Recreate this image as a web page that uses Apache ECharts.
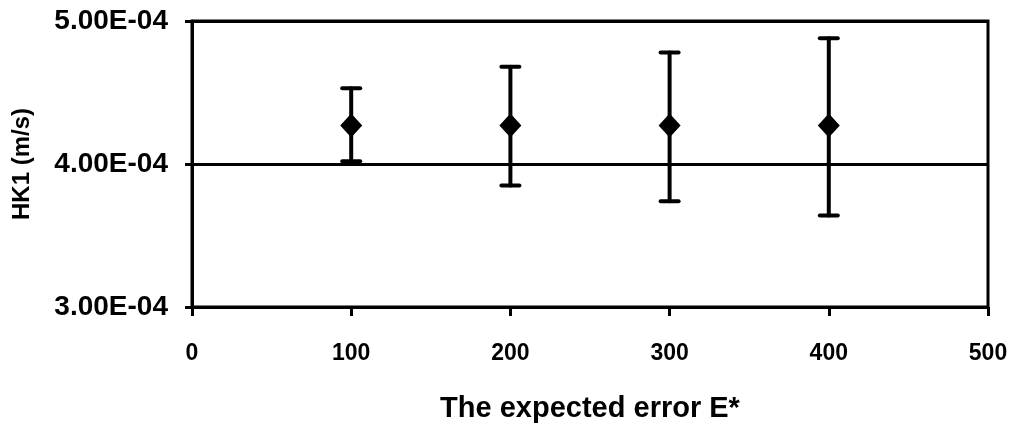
<!DOCTYPE html>
<html>
<head>
<meta charset="utf-8">
<script src="https://cdn.jsdelivr.net/npm/echarts@6/dist/echarts.min.js"></script>
<style>
  html, body { margin: 0; padding: 0; background: #fff; }
  #chart { width: 1024px; height: 435px; }
</style>
</head>
<body>
<div id="chart"></div>
<script>
// Data
const errorLevels = [100, 200, 300, 400];
const hk1Mean = [4.27e-4, 4.27e-4, 4.27e-4, 4.27e-4];
const hk1Upper = [4.53e-4, 4.68e-4, 4.78e-4, 4.88e-4];
const hk1Lower = [4.02e-4, 3.85e-4, 3.74e-4, 3.64e-4];
const yTickValues = [3e-4, 4e-4, 5e-4];
const yTickLabels = ['3.00E-04', '4.00E-04', '5.00E-04'];

const FONT = '"Liberation Sans", Arial, sans-serif';

function yLabel(v) {
    for (let i = 0; i < yTickValues.length; i++) {
        if (Math.abs(v - yTickValues[i]) < 1e-9) return yTickLabels[i];
    }
    return '';
}

const chart = echarts.init(document.getElementById('chart'));

const option = {
    animation: false,
    grid: {
        left: 192, right: 36, top: 21, bottom: 128,
        show: true, borderColor: '#000', borderWidth: 3, backgroundColor: 'transparent'
    },
    xAxis: {
        type: 'value',
        min: 0, max: 500, interval: 100,
        name: 'The expected error E*',
        nameLocation: 'middle',
        nameGap: 87,
        nameTextStyle: { fontFamily: FONT, fontWeight: 'bold', fontSize: 29, color: '#000' },
        axisLine: { lineStyle: { color: '#000', width: 3 } },
        axisTick: { inside: false, length: 9, lineStyle: { color: '#000', width: 3 } },
        axisLabel: { margin: 35, fontFamily: FONT, fontWeight: 'bold', fontSize: 23, color: '#000' },
        splitLine: { show: false }
    },
    yAxis: {
        type: 'value',
        min: 3e-4, max: 5e-4, interval: 1e-4,
        name: 'HK1 (m/s)',
        nameLocation: 'middle',
        nameGap: 158,
        nameTextStyle: { fontFamily: FONT, fontWeight: 'bold', fontSize: 24, color: '#000' },
        axisLine: { lineStyle: { color: '#000', width: 3 } },
        axisTick: { length: 7, lineStyle: { color: '#000', width: 3 } },
        axisLabel: { margin: 24, fontFamily: FONT, fontWeight: 'bold', fontSize: 28, color: '#000', formatter: yLabel },
        splitLine: { show: true, lineStyle: { color: '#000', width: 3 } }
    },
    series: [
        {
            type: 'custom',
            data: errorLevels.map((x, i) => [x, hk1Lower[i], hk1Upper[i]]),
            encode: { x: 0, y: [1, 2] },
            z: 3,
            renderItem: function (params, api) {
                const lo = api.coord([api.value(0), api.value(1)]);
                const hi = api.coord([api.value(0), api.value(2)]);
                const half = 9;
                const style = { stroke: '#000', lineWidth: 4, fill: null, lineCap: 'round' };
                return {
                    type: 'group',
                    children: [
                        { type: 'line', shape: { x1: lo[0], y1: lo[1], x2: hi[0], y2: hi[1] }, style: style },
                        { type: 'line', shape: { x1: hi[0] - half, y1: hi[1], x2: hi[0] + half, y2: hi[1] }, style: style },
                        { type: 'line', shape: { x1: lo[0] - half, y1: lo[1], x2: lo[0] + half, y2: lo[1] }, style: style }
                    ]
                };
            }
        },
        {
            type: 'scatter',
            data: errorLevels.map((x, i) => [x, hk1Mean[i]]),
            symbol: 'diamond',
            symbolSize: [22, 24],
            itemStyle: { color: '#000', opacity: 1 },
            z: 4
        }
    ]
};

chart.setOption(option);
</script>
</body>
</html>
